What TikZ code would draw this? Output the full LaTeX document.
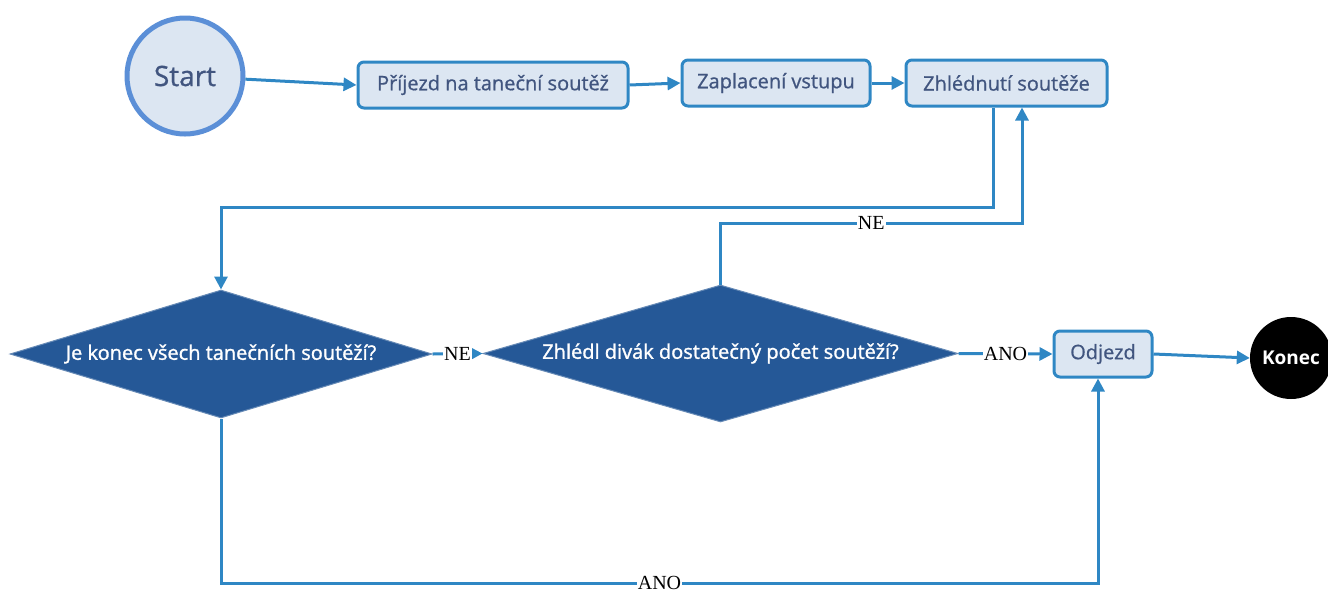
\documentclass[tikz,border=0pt]{standalone}
\usepackage{fontspec}
\setmainfont{Open Sans}
\newfontfamily\medfont{Open Sans}[FakeBold=0.8]
\newfontfamily\semifont{Open Sans}[FakeBold=1.4]
\newfontfamily\lblfont{Liberation Serif}
\usetikzlibrary{shapes.geometric,arrows.meta,calc}
\definecolor{linec}{HTML}{2F87C4}
\definecolor{boxfill}{HTML}{DCE6F2}
\definecolor{boxtext}{HTML}{41557F}
\definecolor{startline}{HTML}{5B8FD7}
\definecolor{decfill}{HTML}{255897}
\tikzset{
  x=1pt, y=-1pt,
  stepbox/.style={draw=linec, line width=3pt, fill=boxfill, rounded corners=6pt,
    minimum height=46pt, inner sep=0pt, text=boxtext,
    font=\medfont\fontsize{20}{24}\selectfont},
  decision/.style={diamond, fill=decfill, draw=decfill!70!white, line width=1pt,
    aspect=3.3, inner sep=0pt, text=white,
    font=\semifont\fontsize{20}{24}\selectfont},
  conn/.style={draw=linec, line width=3pt},
  arr/.style={conn, -{Triangle[length=13pt,width=13pt]}},
  lbl/.style={fill=white, inner sep=1pt, text=black,
    font=\lblfont\fontsize{20}{22}\selectfont},
}
\begin{document}
\begin{tikzpicture}
\useasboundingbox (0,0) rectangle (1328,590);

% start / end terminals
\node[circle, draw=startline, line width=5pt, fill=boxfill, minimum size=116pt,
  inner sep=0pt, text=boxtext, font=\medfont\fontsize{28}{32}\selectfont] (start) at (185,76) {Start};
\node[circle, fill=black, minimum size=82pt, inner sep=0pt, text=white,
  font=\fontsize{19}{22}\selectfont\bfseries] (konec) at (1291,358) {Konec};

% process steps
\node[stepbox, minimum width=270pt] (b1) at (493,85) {Příjezd na taneční soutěž};
\node[stepbox, minimum width=188pt] (b2) at (776,83) {Zaplacení vstupu};
\node[stepbox, minimum width=201pt] (b3) at (1006.5,83) {Zhlédnutí soutěže};
\node[stepbox, minimum width=98pt] (odj) at (1103,354) {Odjezd};

% decisions
\node[decision, minimum width=422pt, minimum height=128pt] (d1) at (221,354)
  {Je konec všech tanečních soutěží?};
\node[decision, minimum width=475pt, minimum height=137pt] (d2) at (720.5,353.5)
  {Zhlédl divák dostatečný počet soutěží?};

% bend points
\coordinate (k1) at (221,207);
\coordinate (k2) at (1022,223);
\coordinate (k3) at (221,583);
\coordinate (k4) at (1098,583);

% main flow
\draw[arr] (start) -- (b1.west);
\draw[arr] (b1.east) -- (b2.west);
\draw[arr] (b2.east) -- (b3.west);
\draw[arr] ([xshift=-13.5pt]b3.south) |- (k1) -- (d1.north);
\draw[arr] (d1.east) -- node[lbl]{NE} (d2.west);
\draw[arr] (d2.north) |- node[lbl, pos=0.75]{NE} (k2) -- ([xshift=15.5pt]b3.south);
\draw[arr] (d2.east) -- node[lbl]{ANO} (odj.west);
\draw[arr] (d1.south) -- (k3) -- node[lbl]{ANO} (k4) -- ([xshift=-5pt]odj.south);
\draw[arr] (odj.east) -- (konec.west);
\end{tikzpicture}
\end{document}
